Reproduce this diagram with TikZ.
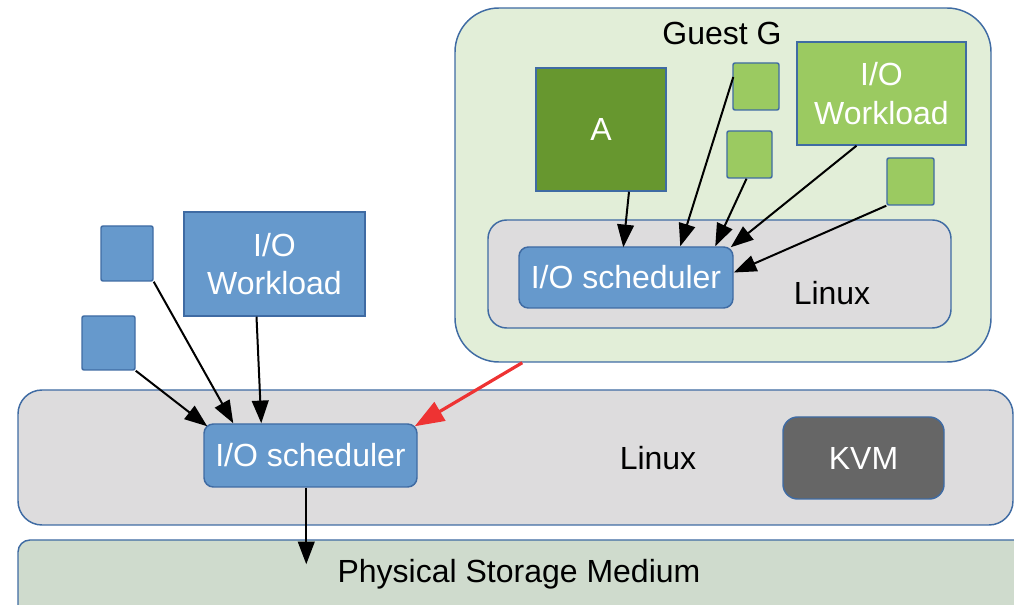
\documentclass[tikz,border=0pt]{standalone}
\usepackage{fontspec}
\setmainfont{Liberation Sans}
\usetikzlibrary{arrows.meta,calc}
\definecolor{boxblue}{HTML}{6699CC}
\definecolor{edgeblue}{HTML}{3F6BA3}
\definecolor{layergray}{HTML}{DDDCDD}
\definecolor{guestgreen}{HTML}{E2EED8}
\definecolor{storagegreen}{HTML}{CFDBCD}
\definecolor{appdark}{HTML}{67972F}
\definecolor{applight}{HTML}{9BCA61}
\definecolor{kvmgray}{HTML}{666666}
\definecolor{linkred}{HTML}{EE3333}
\begin{document}
\begin{tikzpicture}[x=0.75pt,y=-0.75pt,
  font=\fontsize{24}{29}\selectfont,
  wh/.style 2 args={minimum width=#1*0.75pt,minimum height=#2*0.75pt},
  blk/.style={draw=edgeblue,line width=1.1pt,inner sep=0pt,align=center},
  layer/.style={blk,fill=layergray},
  sched/.style={blk,fill=boxblue,text=white,rounded corners=7pt},
  bluesq/.style={blk,fill=boxblue,rounded corners=1.5pt},
  greensq/.style={blk,fill=applight,rounded corners=1.5pt},
  caption/.style={inner sep=0pt,text=black},
  flow/.style={-{Triangle[length=17pt,width=12.5pt]},line width=1.5pt,black},
  vmflow/.style={-{Triangle[length=22pt,width=16pt]},line width=2.4pt,linkred}
]
\clip (0,0) rectangle (1014,605);

% physical storage and host kernel layers
\node[blk,fill=storagegreen,rounded corners=9pt,wh={1012}{80}] (storage) at (524,580) {};
\node[caption] (stlabel) at (519,574) {Physical Storage Medium};
\node[layer,rounded corners=18pt,wh={995}{135}] (host) at (515.5,457.5) {};
\node[caption] (hostlabel) at (658,458) {Linux};
\node[blk,fill=kvmgray,text=white,rounded corners=11pt,wh={161}{82}] (kvm) at (863.5,458) {KVM};
\node[sched,wh={213}{63}] (hsched) at (310.5,455.5) {I/O scheduler};

% host-side workloads
\node[bluesq,wh={52}{55}] (hq1) at (127,253.5) {};
\node[bluesq,wh={53}{54}] (hq2) at (108.5,343) {};
\node[blk,fill=boxblue,text=white,wh={181}{104}] (hwork) at (274.5,264) {I/O\\Workload};

% guest VM
\node[blk,fill=guestgreen,rounded corners=33pt,wh={536}{354}] (guest) at (723,185) {};
\node[caption] (guestlabel) at (722,33) {Guest G};
\node[layer,rounded corners=14pt,wh={463}{108}] (glinux) at (719.5,274) {};
\node[caption] (glinuxlabel) at (832,293) {Linux};
\node[sched,wh={214}{61}] (gsched) at (626,277.5) {I/O scheduler};
\node[blk,fill=appdark,text=white,wh={130}{123}] (appA) at (601,129.5) {A};
\node[greensq,wh={46}{47}] (gq1) at (756,86.5) {};
\node[greensq,wh={45}{47}] (gq2) at (749.5,154.5) {};
\node[blk,fill=applight,text=white,wh={169}{103}] (gwork) at (881.5,93.5) {I/O\\Workload};
\node[greensq,wh={47}{47}] (gq3) at (910.5,181.5) {};

% requests inside the guest
\draw[flow] ($(appA.south)+(28,0)$) -- ($(gsched.north west)+(105,1)$);
\draw[flow] ($(gq1.west)+(1,-9.5)$) -- ($(gsched.north west)+(162,0)$);
\draw[flow] ($(gq2.south)+(-3,0)$) -- ($(gsched.north west)+(197,0)$);
\draw[flow] ($(gwork.south)+(-25,0)$) -- ($(gsched.north east)+(-3,1)$);
\draw[flow] (gq3.south west) -- ($(gsched.east)+(0,-5)$);

% requests on the host
\draw[flow] (hq1.south east) -- ($(hsched.north west)+(30,0)$);
\draw[flow] (hq2.south east) -- ($(hsched.north west)+(4,3)$);
\draw[flow] ($(hwork.south)+(-18,0)$) -- ($(hsched.north west)+(58,0)$);
\draw[flow] ($(hsched.south west)+(103,0)$) -- ($(storage.north west)+(289,25)$);

% guest I/O reaching the host scheduler
\draw[vmflow] ($(guest.south west)+(68,0)$) -- ($(hsched.north east)+(-3,3)$);
\end{tikzpicture}
\end{document}
